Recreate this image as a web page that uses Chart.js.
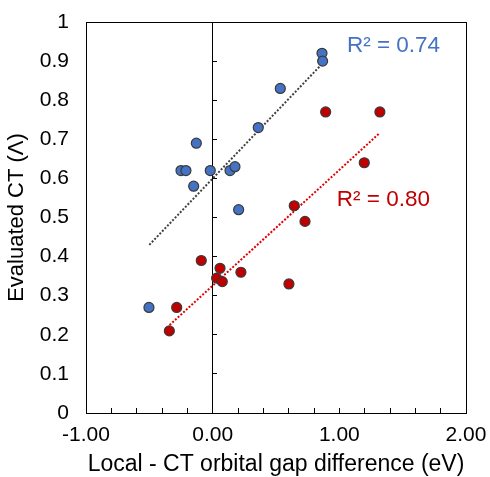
<!DOCTYPE html>
<html>
<head>
<meta charset="utf-8">
<script src="https://cdn.jsdelivr.net/npm/chart.js@4/dist/chart.umd.min.js"></script>
<style>
html,body{margin:0;padding:0;background:#fff;}
#wrap{width:490px;height:477px;position:relative;}
</style>
</head>
<body>
<div id="wrap"><canvas id="c" width="490" height="477"></canvas></div>
<script>
// ---- data ----
const blueX = [0.863, 0.868, 0.534, 0.36, -0.129, -0.25, -0.211, -0.019, 0.137, 0.176, -0.15, 0.205, -0.503];
const blueY = [0.92, 0.90, 0.83, 0.73, 0.69, 0.62, 0.62, 0.62, 0.62, 0.63, 0.58, 0.52, 0.27];
const redX = [0.892, 1.32, 1.197, 0.644, 0.729, -0.09, 0.058, 0.223, 0.031, 0.076, 0.602, -0.284, -0.342];
const redY = [0.77, 0.77, 0.64, 0.53, 0.49, 0.39, 0.37, 0.36, 0.345, 0.336, 0.33, 0.27, 0.21];
const blueTrendX = [-0.5, 0.87];
const blueTrendY = [0.43, 0.895];
const redTrendX = [-0.34, 1.315];
const redTrendY = [0.225, 0.715];
const blueR2 = "R² = 0.74";
const redR2 = "R² = 0.80";
const xTitle = "Local - CT orbital gap difference (eV)";
const yTitle = "Evaluated CT (Λ)";

const FONT = "'Liberation Sans', Arial, Helvetica, sans-serif";
const pts = (xs, ys) => xs.map((x, i) => ({x: x, y: ys[i]}));

const frame = {
  id: 'frame',
  afterDraw(chart) {
    const {ctx, chartArea: a} = chart;
    ctx.save();
    ctx.strokeStyle = '#000';
    ctx.lineWidth = 1;
    ctx.strokeRect(Math.round(a.left) + 0.5, Math.round(a.top) + 0.5, Math.round(a.right - a.left), Math.round(a.bottom - a.top));
    const xs = chart.scales.x, ys = chart.scales.y;
    ctx.font = "22.5px " + FONT;
    ctx.textBaseline = 'middle';
    ctx.textAlign = 'left';
    ctx.fillStyle = '#4472C4';
    ctx.fillText(blueR2, xs.getPixelForValue(1.06), ys.getPixelForValue(0.94));
    ctx.fillStyle = '#C00000';
    ctx.fillText(redR2, xs.getPixelForValue(0.98), ys.getPixelForValue(0.545));
    ctx.restore();
  }
};

new Chart(document.getElementById('c'), {
  type: 'scatter',
  data: {
    datasets: [
      {data: pts(blueX, blueY), backgroundColor: '#4472C4', borderColor: '#3a3a3a', borderWidth: 1.2, pointRadius: 5},
      {data: pts(redX, redY), backgroundColor: '#C00000', borderColor: '#3a3a3a', borderWidth: 1.2, pointRadius: 5},
      {data: pts(blueTrendX, blueTrendY), showLine: true, pointRadius: 0, borderColor: '#404040', borderWidth: 2, borderDash: [2, 1.7], fill: false},
      {data: pts(redTrendX, redTrendY), showLine: true, pointRadius: 0, borderColor: '#E00000', borderWidth: 2, borderDash: [2, 1.7], fill: false}
    ]
  },
  options: {
    responsive: false,
    animation: false,
    layout: {padding: {top: 22, right: 0, left: 4, bottom: 0}},
    plugins: {legend: {display: false}, tooltip: {enabled: false}},
    scales: {
      x: {
        type: 'linear', position: 'bottom', min: -1, max: 2,
        afterFit: (s) => { s.height = 64; s.paddingLeft = 0; s.paddingRight = 24; },
        ticks: {
          stepSize: 0.2, autoSkip: false, maxRotation: 0, padding: 14.5,
          color: '#000', font: {family: FONT, size: 21},
          callback: (v) => { const r = Math.round(v * 10) / 10; return Number.isInteger(r) ? r.toFixed(2) : ''; }
        },
        grid: {drawOnChartArea: false, drawTicks: true, tickLength: -5, tickColor: '#000', tickWidth: 1},
        border: {color: '#000', width: 1},
        title: {display: true, text: xTitle, color: '#000', font: {family: FONT, size: 23, lineHeight: 1}, padding: {top: 0, bottom: 0.5}}
      },
      y: {
        type: 'linear', position: 'left', min: 0, max: 1,
        afterFit: (s) => { s.width = 82; s.paddingTop = 0; s.paddingBottom = 0; },
        ticks: {
          stepSize: 0.1, autoSkip: false, padding: 17,
          color: '#000', font: {family: FONT, size: 21},
          callback: (v) => String(Math.round(v * 10) / 10)
        },
        grid: {drawOnChartArea: false, drawTicks: false},
        border: {color: '#000', width: 1},
        title: {display: true, text: yTitle, color: '#000', font: {family: FONT, size: 22}, padding: {top: 0, bottom: 0}}
      },
      y2: {
        type: 'linear', axis: 'y', position: {x: 0}, min: 0, max: 1,
        afterFit: (s) => { s.paddingTop = 0; s.paddingBottom = 0; },
        ticks: {stepSize: 0.1, display: false},
        grid: {drawOnChartArea: false, drawTicks: true, tickLength: -5, tickColor: '#000', tickWidth: 1},
        border: {color: '#000', width: 1}
      }
    }
  },
  plugins: [frame]
});
</script>
</body>
</html>
